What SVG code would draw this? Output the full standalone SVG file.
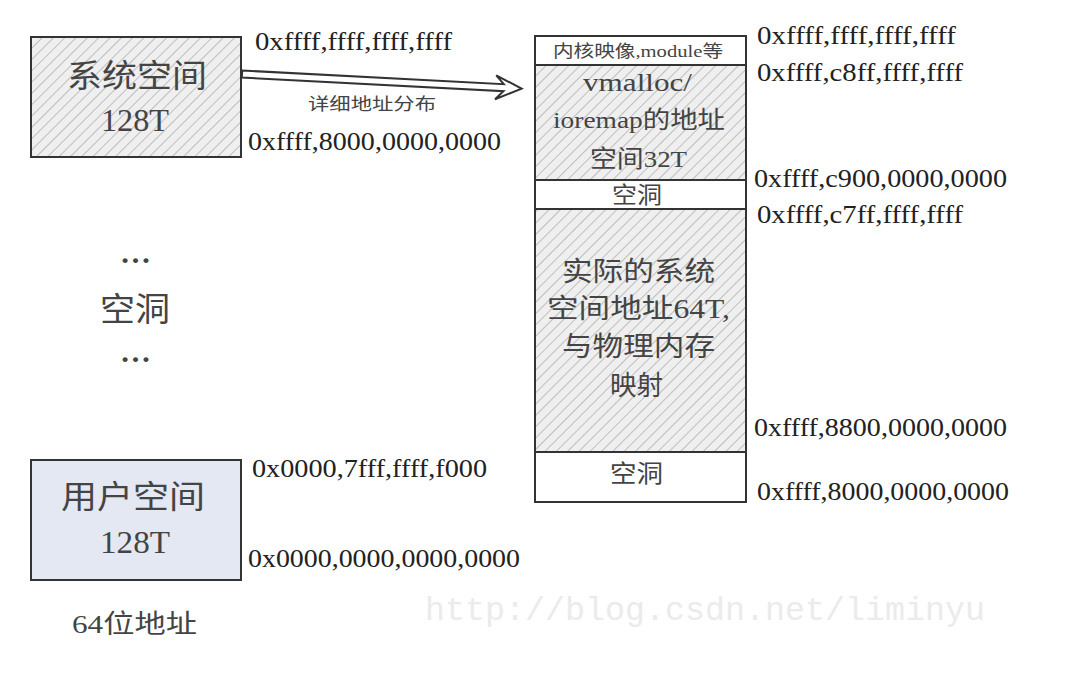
<svg xmlns="http://www.w3.org/2000/svg" width="1084" height="678" viewBox="0 0 1084 678">
<defs>
<pattern id="hatch" patternUnits="userSpaceOnUse" width="8" height="8" patternTransform="rotate(45)">
<rect width="8" height="8" fill="#efefef"/>
<line x1="0" y1="0" x2="0" y2="8" stroke="#8e8e8e" stroke-width="1"/>
</pattern>
<style>
.box{stroke:#333;stroke-width:2}
.hat{fill:url(#hatch)}
.t{font-family:"Liberation Serif","Noto Sans CJK SC",serif;fill:#444}
.l{font-family:"Liberation Serif",serif}
.addr{font-family:"Liberation Serif",serif;font-size:26px;fill:#222}
.big{font-size:32px}
.mid{font-size:27px}
</style>
</defs>
<rect width="1084" height="678" fill="#ffffff"/>
<text x="425" y="620" font-family="Liberation Mono,monospace" font-size="33" fill="#ebebeb" textLength="560" lengthAdjust="spacingAndGlyphs">http://blog.csdn.net/liminyu</text>

<g id="sys-space">
<rect class="box hat" x="31" y="37" width="210" height="120"/>
<text class="t big" x="67" y="87" textLength="140" lengthAdjust="spacingAndGlyphs">系统空间</text>
<text class="t big l" x="101" y="131" textLength="68" lengthAdjust="spacingAndGlyphs">128T</text>
</g>

<g id="hole-left">
<text class="t l" x="120" y="263" font-size="30" font-weight="bold" textLength="31" lengthAdjust="spacingAndGlyphs">…</text>
<text class="t" x="100" y="321" font-size="33" textLength="70" lengthAdjust="spacingAndGlyphs">空洞</text>
<text class="t l" x="120" y="362" font-size="30" font-weight="bold" textLength="31" lengthAdjust="spacingAndGlyphs">…</text>
</g>

<g id="user-space">
<rect class="box" x="31" y="460" width="210" height="120" fill="#e4e8f2"/>
<text class="t big" x="61" y="508" textLength="144" lengthAdjust="spacingAndGlyphs">用户空间</text>
<text class="t big l" x="100" y="553" textLength="70" lengthAdjust="spacingAndGlyphs">128T</text>
</g>

<text class="t" x="72" y="633" font-size="26" textLength="125" lengthAdjust="spacingAndGlyphs"><tspan class="l">64</tspan>位地址</text>

<g id="kernel-map">
<rect class="box" x="535" y="36" width="211" height="29" fill="#ffffff"/>
<text class="t" x="553" y="57" font-size="17" textLength="170" lengthAdjust="spacingAndGlyphs">内核映像<tspan class="l">,module</tspan>等</text>
</g>
<g id="vmalloc">
<rect class="box hat" x="535" y="65" width="211" height="115"/>
<text class="t l" x="583" y="91" font-size="25" textLength="109" lengthAdjust="spacingAndGlyphs">vmalloc/</text>
<text class="t" x="553" y="128" font-size="24" textLength="172" lengthAdjust="spacingAndGlyphs"><tspan class="l">ioremap</tspan>的地址</text>
<text class="t" x="590" y="167" font-size="24" textLength="97" lengthAdjust="spacingAndGlyphs">空间<tspan class="l">32T</tspan></text>
</g>
<g id="hole1">
<rect class="box" x="535" y="180" width="211" height="29" fill="#ffffff"/>
<text class="t" x="612" y="203" font-size="23" textLength="50" lengthAdjust="spacingAndGlyphs">空洞</text>
</g>
<g id="direct-map">
<rect class="box hat" x="535" y="209" width="211" height="243"/>
<text class="t mid" x="562" y="281" textLength="153" lengthAdjust="spacingAndGlyphs">实际的系统</text>
<text class="t mid" x="547" y="318" textLength="183" lengthAdjust="spacingAndGlyphs">空间地址<tspan class="l">64T,</tspan></text>
<text class="t mid" x="562" y="356" textLength="153" lengthAdjust="spacingAndGlyphs">与物理内存</text>
<text class="t mid" x="610" y="395" textLength="53" lengthAdjust="spacingAndGlyphs">映射</text>
</g>
<g id="hole2">
<rect class="box" x="535" y="452" width="211" height="50" fill="#ffffff"/>
<text class="t" x="610" y="482" font-size="24" textLength="53" lengthAdjust="spacingAndGlyphs">空洞</text>
</g>

<g id="addresses">
<text class="addr" x="255" y="50" textLength="197" lengthAdjust="spacingAndGlyphs">0xffff,ffff,ffff,ffff</text>
<text class="addr" x="248" y="150" textLength="253" lengthAdjust="spacingAndGlyphs">0xffff,8000,0000,0000</text>
<text class="addr" x="252" y="477" textLength="235" lengthAdjust="spacingAndGlyphs">0x0000,7fff,ffff,f000</text>
<text class="addr" x="248" y="567" textLength="272" lengthAdjust="spacingAndGlyphs">0x0000,0000,0000,0000</text>
<text class="addr" x="757" y="44" textLength="199" lengthAdjust="spacingAndGlyphs">0xffff,ffff,ffff,ffff</text>
<text class="addr" x="757" y="81" textLength="206" lengthAdjust="spacingAndGlyphs">0xffff,c8ff,ffff,ffff</text>
<text class="addr" x="754" y="187" textLength="253" lengthAdjust="spacingAndGlyphs">0xffff,c900,0000,0000</text>
<text class="addr" x="757" y="223" textLength="206" lengthAdjust="spacingAndGlyphs">0xffff,c7ff,ffff,ffff</text>
<text class="addr" x="754" y="436" textLength="253" lengthAdjust="spacingAndGlyphs">0xffff,8800,0000,0000</text>
<text class="addr" x="757" y="500" textLength="252" lengthAdjust="spacingAndGlyphs">0xffff,8000,0000,0000</text>
</g>

<g id="connectors">
<g transform="translate(242,74) rotate(3)">
<polygon points="0,-3.5 262,-3.5 254,-12 280,0 254,12 262,3.5 0,3.5" fill="#ffffff" stroke="#333" stroke-width="2" stroke-linejoin="miter"/>
</g>
<text class="t" x="308" y="110" font-size="17" fill="#666" textLength="128" lengthAdjust="spacingAndGlyphs">详细地址分布</text>
</g>
</svg>
